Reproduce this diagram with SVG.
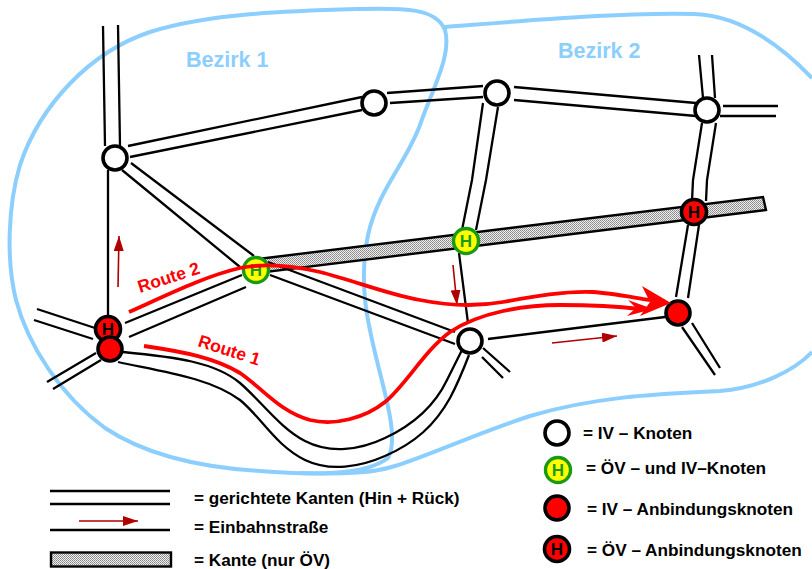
<svg xmlns="http://www.w3.org/2000/svg" width="812" height="569" viewBox="0 0 812 569">
<defs>
<pattern id="dither" width="2" height="2" patternUnits="userSpaceOnUse"><rect width="2" height="2" fill="#eeeeee"/><rect width="1" height="1" fill="#888"/><rect x="1" y="1" width="1" height="1" fill="#999"/></pattern>
<marker id="small" markerUnits="userSpaceOnUse" viewBox="0 0 15 10" refX="15" refY="5" markerWidth="15" markerHeight="10" orient="auto"><path d="M0 0L15 5L0 10Z" fill="#b00000"/></marker>
</defs>
<style>
.bez{fill:none;stroke:#8ccfff;stroke-width:4}
.road{fill:none;stroke:#000;stroke-width:2.3}
.route{fill:none;stroke:#f00;stroke-width:3.8}
.one{fill:none;stroke:#b00000;stroke-width:1.6;marker-end:url(#small)}
.oev{fill:url(#dither);stroke:#000;stroke-width:2.4}
.iv{fill:#fff;stroke:#000;stroke-width:3.6}
.both{fill:#ff0;stroke:#1a9a10;stroke-width:3.4}
.anb{fill:#f00;stroke:#000;stroke-width:3.6}
.hg{font:bold 17px "Liberation Sans",Arial,sans-serif;fill:#1a9a10;text-anchor:middle}
.hk{font:bold 17px "Liberation Sans",Arial,sans-serif;fill:#000;text-anchor:middle}
.t{font:bold 17.200px "Liberation Sans",Arial,sans-serif;fill:#000}
.bl{font:bold 21.500px "Liberation Sans",Arial,sans-serif;fill:#8ccfff}
.rl{font:bold 17.500px "Liberation Sans",Arial,sans-serif;fill:#f00}
</style>
<g id="districts">
<path class="bez" d="M445 30C436 8 405 8 360 9C290 11 210 13 150 32C90 52 40 105 20 165C8 205 6 260 16 300C28 345 60 395 105 428C150 458 210 468 260 471C310 475 365 476 388 458C398 440 388 405 378 365C368 325 358 285 368 235C378 190 405 165 420 125C432 90 452 55 445 30Z"/>
<path class="bez" d="M445 27C510 22 620 12 695 14C745 16 785 50 812 78M812 352C795 370 760 388 720 391C650 394 590 398 530 416C480 432 430 455 395 466C370 474 340 474 300 473"/>
<text class="bl" x="186" y="67">Bezirk 1</text>
<text class="bl" x="558" y="58">Bezirk 2</text>
</g>
<g id="connectors">
<polygon class="oev" points="258,259 763,197 766,210 258,273"/>
<path class="road" d="M103 26L105 146M118 25L120 146M128 146L362 97M130 157L362 110M387 93L483 86M390 103L483 97M514 87L696 103M514 100L696 116M723 106L778 106M720 116L776 116M699 55L703 98M712 55L715 98M702 123L693 180L692 201M716 123L707 180L706 201M688 225L676 297M699 225L688 298M682 327L715 375M692 323L720 368M483 103L472 180L462 230M498 107L486 180L476 230M459 253L468 323M488 339L665 317M483 348L510 372M482 357L503 378M268 262L455 332M270 275L455 344M122 170L240 267M131 163L254 256M108 170L108 318M37 309L95 328M34 320L93 339M47 382L96 353M53 389L101 360M125 323L242 275M129 337L246 287"/>
<path class="road" d="M123 352C175 357 215 362 240 383C262 402 280 428 305 441C330 454 360 450 385 438C415 424 435 405 447 380C453 368 458 358 462 350"/>
<path class="road" d="M118 362C165 372 210 378 240 400C262 418 275 445 305 460C330 472 360 467 385 456C415 443 435 425 450 398C458 383 464 368 469 355"/>
<path class="one" d="M118 287L119 236"/>
<path class="one" d="M453 265L457 305"/>
<path class="one" d="M552 343L617 336"/>
<path class="one" d="M79 521L138 521"/>
<path class="road" d="M50 491H170M50 504H170M50 530H170"/>
<rect class="oev" x="51" y="552.500" width="120" height="14"/>
</g>
<g id="n1"><circle class="iv" cx="115" cy="158" r="12"/></g>
<g id="n2"><circle class="iv" cx="374" cy="103" r="12"/></g>
<g id="n3"><circle class="iv" cx="497" cy="93" r="12"/></g>
<g id="n4"><circle class="iv" cx="707" cy="110" r="12"/></g>
<g id="n5"><circle class="iv" cx="470" cy="341" r="12"/></g>
<g id="n6"><circle class="both" cx="256" cy="270" r="12.500"/><text class="hg" x="256" y="276">H</text></g>
<g id="n7"><circle class="both" cx="466" cy="241" r="12.500"/><text class="hg" x="466" y="247">H</text></g>
<g id="n8"><circle class="anb" cx="108" cy="329" r="12.500"/><text class="hk" x="108" y="335">H</text></g>
<g id="n9"><circle class="anb" cx="110" cy="349" r="12"/></g>
<g id="n10"><circle class="anb" cx="694" cy="212" r="12.500"/><text class="hk" x="694" y="218">H</text></g>
<g id="n11"><circle class="anb" cx="678" cy="313" r="12"/></g>
<g id="routes">
<path class="route" d="M129 312C165 296 205 276 240 268C265 263 295 266 320 272C355 281 390 295 420 300C450 306 475 307 503 302C535 296 565 291 593 292C610 293 625 296 650 300"/>
<polygon fill="#f00" points="642,286 671,303 640,316 650,302"/>
<path class="route" d="M144 346C185 352 215 358 240 373C262 388 280 412 310 420C335 426 365 418 385 402C405 386 425 350 450 332C480 312 525 305 560 305C590 305 615 306 640 309"/>
<polygon fill="#f00" points="628,300 653,309 627,316 636,308"/>
<text class="rl" transform="translate(140 293) rotate(-18)">Route 2</text>
<text class="rl" transform="translate(197 346) rotate(18)">Route 1</text>
</g>
<g id="legend">
<text class="t" x="194" y="504">= gerichtete Kanten (Hin + Rück)</text>
<text class="t" x="194" y="533">= Einbahnstraße</text>
<text class="t" x="194" y="566">= Kante (nur ÖV)</text>
<g id="l1"><circle class="iv" cx="557" cy="433" r="12"/><text class="t" x="583" y="439">= IV – Knoten</text></g>
<g id="l2"><circle class="both" cx="558" cy="470" r="12.500"/><text class="hg" x="558" y="476">H</text><text class="t" x="586" y="474">= ÖV – und IV–Knoten</text></g>
<g id="l3"><circle class="anb" cx="557" cy="508" r="12"/><text class="t" x="587" y="515">= IV – Anbindungsknoten</text></g>
<g id="l4"><circle class="anb" cx="557" cy="549" r="12.500"/><text class="hk" x="557" y="555">H</text><text class="t" x="587" y="556">= ÖV – Anbindungsknoten</text></g>
</g>
</svg>
